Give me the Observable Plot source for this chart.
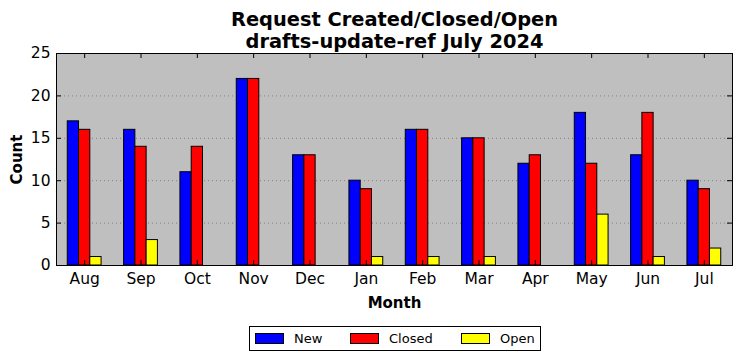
<!DOCTYPE html>
<html>
<head>
<meta charset="utf-8">
<script src="https://cdn.jsdelivr.net/npm/d3@7"></script>
<script src="https://cdn.jsdelivr.net/npm/@observablehq/plot@0.6"></script>
<style>
  html, body { margin: 0; padding: 0; background: #fff; }
  #wrap { position: relative; width: 742px; height: 361px; font-family: "DejaVu Sans", sans-serif; }
  #legend { position: absolute; left: 249px; top: 326px; width: 290px; height: 23px; border: 1px solid #000; box-sizing: content-box; font-size: 13px; }
  .item { position: absolute; top: 0; height: 23px; display: flex; align-items: center; }
  .sw { width: 27px; height: 9px; border: 1px solid #000; margin-right: 10px; }
</style>
</head>
<body>
<div id="wrap"></div>
<script>
const months = ["Aug", "Sep", "Oct", "Nov", "Dec", "Jan", "Feb", "Mar", "Apr", "May", "Jun", "Jul"];
const newCounts = [17, 16, 11, 22, 13, 10, 16, 15, 12, 18, 13, 10];
const closedCounts = [16, 14, 14, 22, 13, 9, 16, 15, 13, 12, 18, 9];
const openCounts = [1, 3, 0, 0, 0, 1, 1, 1, 0, 6, 1, 2];
const seriesNames = ["New", "Closed", "Open"];
const seriesColors = ["#0000ff", "#ff0000", "#ffff00"];
const yTicks = [0, 5, 10, 15, 20, 25];
const titleLines = ["Request Created/Closed/Open", "drafts-update-ref July 2024"];

const seriesValues = [newCounts, closedCounts, openCounts];
const rows = [];
seriesValues.forEach((vals, k) => {
  vals.forEach((v, i) => {
    rows.push({month: months[i], idx: i, series: seriesNames[k], k, value: v});
  });
});
const barW = 0.2;

const W = 742, H = 318;
const mL = 56, mR = 10, mT = 53, mB = H - 265;
const fw = W - mL - mR, fh = H - mT - mB;

const chart = Plot.plot({
  width: W,
  height: H,
  marginLeft: mL,
  marginRight: mR,
  marginTop: mT,
  marginBottom: mB,
  style: {fontFamily: "DejaVu Sans, sans-serif", fontSize: "15px", color: "#000", background: "#fff"},
  x: {type: "linear", domain: [-0.5, months.length - 0.5], axis: null},
  y: {domain: [0, 25], axis: null},
  color: {domain: seriesNames, range: seriesColors},
  marks: [
    Plot.frame({fill: "#bfbfbf", stroke: null}),
    Plot.gridY(yTicks.filter(t => t > 0 && t < 25), {stroke: "#808080", strokeOpacity: 1, strokeDasharray: "1,3"}),
    Plot.rectY(rows, {
      x1: d => d.idx - 0.3 + d.k * barW,
      x2: d => d.idx - 0.3 + (d.k + 1) * barW,
      y1: 0,
      y2: "value",
      fill: "series",
      stroke: "#000",
      strokeWidth: 1
    }),
    // inward ticks
    Plot.tickY(yTicks, {y: d => d, insetRight: fw - 5, stroke: "#000"}),
    Plot.tickY(yTicks, {y: d => d, insetLeft: fw - 5, stroke: "#000"}),
    Plot.tickX(months.map((m, i) => i), {x: d => d, insetTop: fh - 5, stroke: "#000"}),
    Plot.tickX(months.map((m, i) => i), {x: d => d, insetBottom: fh - 5, stroke: "#000"}),
    Plot.frame({stroke: "#000", strokeWidth: 1}),
    Plot.axisY(yTicks, {tickSize: 0, tickPadding: 6, fontSize: 15.5, label: null}),
    Plot.axisX(months.map((m, i) => i), {tickSize: 0, tickPadding: 7, fontSize: 15.5, tickFormat: i => months[i], label: null}),
    Plot.text(["Month"], {frameAnchor: "bottom", lineAnchor: "middle", dy: 38, fontWeight: "bold", fontSize: 15}),
    Plot.text(["Count"], {frameAnchor: "left", textAnchor: "middle", lineAnchor: "middle", dx: -39, rotate: -90, fontWeight: "bold", fontSize: 15}),
    Plot.text([titleLines[0]], {frameAnchor: "top", lineAnchor: "middle", dy: -34, fontWeight: "bold", fontSize: 19.4}),
    Plot.text([titleLines[1]], {frameAnchor: "top", lineAnchor: "middle", dy: -12, fontWeight: "bold", fontSize: 19.4})
  ]
});

const wrap = document.getElementById("wrap");
wrap.appendChild(chart);

const legend = document.createElement("div");
legend.id = "legend";
const itemLeft = [5, 100, 211];
seriesNames.forEach((name, k) => {
  const item = document.createElement("div");
  item.className = "item";
  item.style.left = itemLeft[k] + "px";
  const sw = document.createElement("span");
  sw.className = "sw";
  sw.style.background = seriesColors[k];
  const lab = document.createElement("span");
  lab.textContent = name;
  item.appendChild(sw);
  item.appendChild(lab);
  legend.appendChild(item);
});
wrap.appendChild(legend);
</script>
</body>
</html>
